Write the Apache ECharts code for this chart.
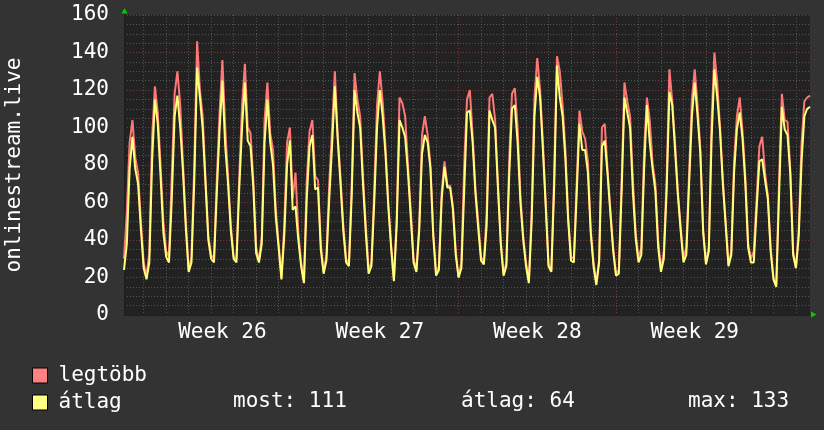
<!DOCTYPE html>
<html>
<head>
<meta charset="utf-8">
<script src="https://cdn.jsdelivr.net/npm/echarts@6/dist/echarts.min.js"></script>
<style>
    html, body { margin: 0; padding: 0; background: #333333; }
    #main { width: 824px; height: 430px; }
</style>
</head>
<body>
<div id="main"></div>
<script>
// 3 órás minták, az első éjfél a 7. indexnél
var stepHours = 3;
var firstMidnight = 7;
var weekStarts = [7, 63, 119, 175, 231];
var weekNames = ['Week 26', 'Week 27', 'Week 28', 'Week 29'];
var yTicks = [0, 20, 40, 60, 80, 100, 120, 140, 160];

// legtöbb (max)
var maxVals = [
    30, 55, 92, 104, 84, 76, 50, 28, 21, 33,
    95, 122, 108, 80, 50, 34, 31, 75, 118, 130,
    112, 80, 50, 24, 31, 80, 146, 120, 106, 72,
    42, 32, 30, 72, 108, 136, 100, 74, 48, 31,
    30, 74, 112, 134, 100, 97, 72, 36, 29, 42,
    104, 124, 97, 88, 56, 38, 20, 48, 92, 100,
    62, 76, 44, 28, 18, 72, 98, 104, 74, 72,
    38, 23, 32, 70, 99, 130, 96, 74, 48, 30,
    27, 70, 129, 115, 106, 74, 48, 24, 28, 66,
    112, 130, 114, 90, 60, 38, 19, 52, 116, 113,
    106, 80, 56, 30, 24, 48, 96, 106, 96, 80,
    44, 22, 26, 66, 82, 69, 69, 58, 34, 20,
    28, 80, 115, 120, 96, 67, 50, 31, 28, 55,
    116, 118, 104, 70, 40, 22, 28, 82, 118, 121,
    100, 64, 42, 28, 18, 56, 116, 137, 120, 92,
    60, 27, 24, 75, 138, 130, 112, 88, 52, 31,
    30, 70, 109, 98, 94, 82, 46, 28, 17, 30,
    100, 102, 77, 56, 36, 22, 24, 72, 124, 114,
    106, 72, 44, 30, 36, 88, 116, 104, 81, 70,
    40, 24, 34, 72, 131, 114, 92, 66, 47, 30,
    36, 76, 115, 131, 112, 88, 46, 28, 36, 104,
    140, 124, 100, 72, 50, 27, 34, 82, 106, 116,
    98, 74, 38, 30, 34, 62, 90, 95, 76, 64,
    36, 20, 16, 72, 118, 104, 103, 77, 34, 25,
    46, 92, 114, 116, 117
];

// átlag
var avgVals = [
    24, 38, 78, 95, 78, 70, 46, 25, 19, 28,
    82, 115, 102, 74, 44, 31, 28, 62, 106, 117,
    100, 76, 46, 23, 28, 72, 132, 116, 99, 70,
    40, 30, 28, 65, 99, 125, 90, 70, 45, 30,
    28, 68, 100, 124, 93, 90, 68, 33, 28, 38,
    92, 115, 92, 80, 52, 36, 19, 42, 80, 93,
    56, 58, 40, 26, 17, 62, 90, 96, 67, 68,
    35, 22, 29, 62, 90, 122, 94, 70, 45, 28,
    26, 64, 120, 108, 100, 70, 44, 22, 26, 60,
    100, 120, 106, 86, 58, 36, 18, 48, 104, 100,
    95, 76, 52, 28, 23, 45, 86, 96, 92, 78,
    42, 21, 24, 62, 79, 68, 68, 56, 32, 20,
    25, 66, 108, 109, 92, 65, 46, 29, 27, 48,
    109, 104, 100, 68, 38, 21, 26, 74, 110, 112,
    92, 60, 40, 26, 17, 50, 106, 127, 116, 88,
    58, 26, 23, 68, 133, 116, 106, 83, 50, 29,
    28, 64, 102, 88, 88, 76, 44, 26, 16, 28,
    90, 93, 75, 54, 34, 21, 22, 66, 116, 108,
    100, 66, 41, 28, 32, 78, 112, 92, 78, 66,
    36, 23, 30, 66, 119, 112, 88, 64, 45, 28,
    32, 70, 106, 124, 106, 86, 44, 27, 34, 94,
    131, 116, 98, 70, 48, 26, 32, 76, 99, 108,
    94, 70, 36, 28, 28, 56, 82, 83, 72, 62,
    34, 19, 15, 64, 111, 99, 96, 75, 32, 25,
    42, 82, 106, 110, 111
];

var summaryTexts = ['most: 111', 'átlag: 64', 'max: 133'];

// kategóriák: órák az első éjfélhez képest
var slots = [];
for (var i = 0; i < maxVals.length; i++) {
    slots.push(String((i - firstMidnight) * stepHours));
}
var perDay = 24 / stepHours;

var FONT = 'DejaVu Sans Mono';

function isWeekStart(idx) {
    return weekStarts.indexOf(idx) >= 0;
}
function isDay(idx) {
    return idx >= firstMidnight && (idx - firstMidnight) % perDay === 0 && !isWeekStart(idx);
}
function weekLabelIndex(idx) {
    for (var k = 0; k < weekNames.length; k++) {
        if (idx === (weekStarts[k] + weekStarts[k + 1]) / 2) return k;
    }
    return -1;
}

var oChart = echarts.init(document.getElementById('main'));

var opt = {
    backgroundColor: '#333333',
    animation: false,
    textStyle: { fontFamily: FONT },
    grid: {
        left: 124,
        top: 15,
        width: 686,
        height: 300,
        containLabel: false,
        outerBoundsMode: 'none',
        show: true,
        backgroundColor: '#222222',
        borderWidth: 0
    },
    legend: {
        data: ['legtöbb', 'átlag'],
        orient: 'vertical',
        left: 32,
        top: 365,
        padding: 0,
        itemWidth: 15,
        itemHeight: 15,
        itemGap: 6,
        icon: 'rect',
        selectedMode: false,
        itemStyle: { borderColor: '#000', borderWidth: 1 },
        textStyle: {
            color: '#ffffff',
            fontFamily: FONT,
            fontSize: 21,
            padding: [0, 0, 0, 6]
        }
    },
    xAxis: [{
        type: 'category',
        data: slots,
        boundaryGap: false,
        axisLine: { show: true, lineStyle: { color: '#1e1e1e', width: 1 } },
        axisTick: { show: false },
        axisLabel: {
            interval: function (idx) { return weekLabelIndex(idx) >= 0; },
            formatter: function (v, idx) { return weekNames[weekLabelIndex(idx)] || ''; },
            color: '#ffffff',
            fontFamily: FONT,
            fontSize: 21,
            margin: 7
        },
        splitLine: {
            show: true,
            interval: function (idx) { return isDay(idx); },
            lineStyle: { color: '#555555', type: [1, 2], width: 1 }
        }
    }, {
        type: 'category',
        data: slots,
        boundaryGap: false,
        position: 'bottom',
        axisLine: { show: false },
        axisTick: { show: false },
        axisLabel: { show: false },
        splitLine: {
            show: true,
            interval: function (idx) { return isWeekStart(idx); },
            lineStyle: { color: '#773c3c', type: [1, 2], width: 1 }
        }
    }],
    yAxis: {
        type: 'value',
        min: yTicks[0],
        max: yTicks[yTicks.length - 1],
        interval: 20,
        name: 'onlinestream.live',
        nameLocation: 'middle',
        nameGap: 99,
        nameTextStyle: { color: '#ffffff', fontFamily: FONT, fontSize: 21 },
        axisLine: { show: true, lineStyle: { color: '#1e1e1e', width: 1 } },
        axisTick: { show: false },
        axisLabel: { color: '#ffffff', fontFamily: FONT, fontSize: 21, margin: 15 },
        minorTick: { show: false, splitNumber: 4 },
        minorSplitLine: { show: true, lineStyle: { color: '#555555', type: [1, 2], width: 1 } },
        splitLine: { show: true, lineStyle: { color: '#773c3c', type: [1, 2], width: 1 } }
    },
    series: [{
        name: 'legtöbb',
        type: 'line',
        data: maxVals,
        symbol: 'none',
        itemStyle: { color: '#ff8080' },
        lineStyle: { color: '#ff7878', width: 2 }
    }, {
        name: 'átlag',
        type: 'line',
        data: avgVals,
        symbol: 'none',
        itemStyle: { color: '#ffff80' },
        lineStyle: { color: '#ffff78', width: 2 }
    }],
    graphic: [
        { type: 'polygon', shape: { points: [[121.5, 13.5], [127.5, 13.5], [124.5, 8]] }, style: { fill: '#00cc00' } },
        { type: 'polygon', shape: { points: [[811, 311.5], [811, 317.5], [816.5, 314.5]] }, style: { fill: '#00cc00' } },
        { type: 'text', left: 233, top: 391, style: { text: summaryTexts[0], fill: '#ffffff', font: '21px ' + FONT } },
        { type: 'text', left: 461, top: 391, style: { text: summaryTexts[1], fill: '#ffffff', font: '21px ' + FONT } },
        { type: 'text', left: 688, top: 391, style: { text: summaryTexts[2], fill: '#ffffff', font: '21px ' + FONT } }
    ]
};

oChart.setOption(opt);
</script>
</body>
</html>
